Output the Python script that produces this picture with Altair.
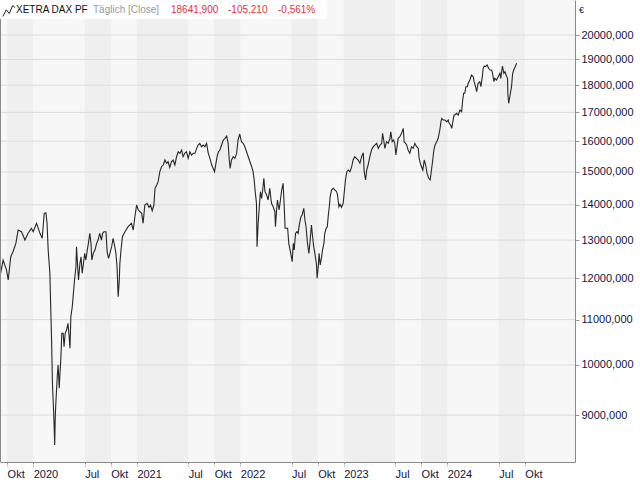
import altair as alt
import pandas as pd

# ---------------- data ----------------
d2019 = ["2019-09-08", "2019-09-17", "2019-09-29", "2019-10-05", "2019-10-14", "2019-10-22",
         "2019-11-01", "2019-11-09", "2019-11-21", "2019-12-03", "2019-12-14", "2019-12-26"]
v2019 = [12120, 12466, 12207, 11954, 12553, 12686, 12912, 13277, 13230, 13001, 13186, 13325]

d2020 = ["2020-01-01", "2020-01-13", "2020-01-25", "2020-02-02", "2020-02-09", "2020-02-15",
         "2020-02-19", "2020-02-23", "2020-02-29", "2020-03-02", "2020-03-06", "2020-03-09",
         "2020-03-14", "2020-03-17", "2020-03-19", "2020-03-21", "2020-03-26", "2020-03-29",
         "2020-04-02", "2020-04-04", "2020-04-08", "2020-04-11", "2020-04-16", "2020-04-19",
         "2020-04-23", "2020-04-28", "2020-05-03", "2020-05-07", "2020-05-10", "2020-05-13",
         "2020-05-18", "2020-05-21", "2020-05-26", "2020-05-31", "2020-06-02", "2020-06-06",
         "2020-06-09", "2020-06-14", "2020-06-18", "2020-06-22", "2020-06-25", "2020-07-01",
         "2020-07-05", "2020-07-10", "2020-07-14", "2020-07-19", "2020-07-23", "2020-07-26",
         "2020-07-31", "2020-08-06", "2020-08-12", "2020-08-17", "2020-08-23", "2020-08-29",
         "2020-09-02", "2020-09-07", "2020-09-14", "2020-09-18", "2020-09-23", "2020-09-28",
         "2020-10-04", "2020-10-09", "2020-10-14", "2020-10-19", "2020-10-23", "2020-10-27",
         "2020-10-31", "2020-11-02", "2020-11-06", "2020-11-11", "2020-11-20", "2020-12-01",
         "2020-12-13", "2020-12-19", "2020-12-25", "2020-12-31"]
v2020 = [13230, 13466, 13186, 13048, 13752, 13769,
         13466, 12731, 12123, 11542, 10538, 9622,
         8970, 8452, 8970, 9226, 9757, 10000,
         9521, 9757, 10175, 10688, 10688, 10391,
         10688, 10762, 10915, 10612, 10356, 11067,
         11302, 11542, 11954, 12292, 12820, 12292,
         11954, 12380, 12553, 12123, 12292, 12643,
         12466, 12731, 12912, 13186, 12912, 12466,
         12643, 12731, 12912, 13001, 13186, 13001,
         13186, 13230, 13230, 12686, 12511, 12643,
         12820, 13048, 12866, 12643, 12292, 11542,
         11954, 12380, 12731, 13092, 13230, 13370,
         13466, 13277, 13654, 13993]

d2021 = ["2021-01-06", "2021-01-18", "2021-01-23", "2021-01-29", "2021-02-06", "2021-02-13",
         "2021-02-18", "2021-02-24", "2021-03-02", "2021-03-06", "2021-03-12", "2021-03-17",
         "2021-03-23", "2021-03-29", "2021-04-04", "2021-04-10", "2021-04-16", "2021-04-21",
         "2021-04-27", "2021-05-03", "2021-05-09", "2021-05-15", "2021-05-21", "2021-05-27",
         "2021-06-02", "2021-06-08", "2021-06-13", "2021-06-19", "2021-06-25", "2021-07-01",
         "2021-07-07", "2021-07-13", "2021-07-19", "2021-07-25", "2021-07-31", "2021-08-05",
         "2021-08-11", "2021-08-17", "2021-08-23", "2021-08-29", "2021-09-04", "2021-09-10",
         "2021-09-16", "2021-09-22", "2021-09-27", "2021-10-02", "2021-10-07", "2021-10-11",
         "2021-10-16", "2021-10-21", "2021-10-27", "2021-11-02", "2021-11-08", "2021-11-14",
         "2021-11-19", "2021-11-23", "2021-11-26", "2021-12-01", "2021-12-07", "2021-12-13",
         "2021-12-19", "2021-12-24", "2021-12-30"]
v2021 = [13847, 13752, 13466, 13993, 14043, 13926,
         13993, 13827, 13993, 14493, 14594, 14696,
         15008, 15166, 15220, 15381, 15275, 15326,
         15147, 15326, 15381, 15220, 15488, 15651,
         15599, 15707, 15488, 15599, 15651, 15436,
         15651, 15543, 15599, 15599, 15763, 15873,
         15930, 15817, 15873, 15817, 15930, 15599,
         15436, 15220, 15115, 15008, 15275, 15488,
         15651, 15707, 15873, 16041, 16098, 16176,
         15930, 15381, 15115, 15381, 15488, 15436,
         15599, 16041, 16244]

d2022 = ["2022-01-05", "2022-01-11", "2022-01-17", "2022-01-23", "2022-01-29", "2022-02-04",
         "2022-02-10", "2022-02-15", "2022-02-19", "2022-02-22", "2022-02-27", "2022-03-01",
         "2022-03-05", "2022-03-09", "2022-03-13", "2022-03-17", "2022-03-21", "2022-03-25",
         "2022-03-29", "2022-04-04", "2022-04-09", "2022-04-15", "2022-04-21", "2022-04-27",
         "2022-05-03", "2022-05-05", "2022-05-09", "2022-05-12", "2022-05-18", "2022-05-27",
         "2022-06-01", "2022-06-05", "2022-06-08", "2022-06-17", "2022-06-21", "2022-06-28",
         "2022-07-03", "2022-07-07", "2022-07-10", "2022-07-15", "2022-07-20", "2022-07-24",
         "2022-07-29", "2022-08-03", "2022-08-07", "2022-08-13", "2022-08-17", "2022-08-21",
         "2022-08-26", "2022-08-31", "2022-09-04", "2022-09-09", "2022-09-13", "2022-09-17",
         "2022-09-21", "2022-09-27", "2022-09-29", "2022-10-03", "2022-10-06", "2022-10-10",
         "2022-10-15", "2022-10-18", "2022-10-23", "2022-10-26", "2022-10-31", "2022-11-04",
         "2022-11-07", "2022-11-11", "2022-11-14", "2022-11-19", "2022-11-25", "2022-12-01",
         "2022-12-07", "2022-12-10", "2022-12-15", "2022-12-19", "2022-12-24", "2022-12-30"]
v2022 = [15984, 15930, 15817, 15651, 15488, 15326,
         15166, 15008, 14748, 14441, 14043, 12820,
         13466, 13943, 14390, 14192, 14441, 14801,
         14390, 14291, 14141, 14493, 14043, 13943,
         13798, 13370, 13847, 14141, 13847, 14441,
         14646, 13943, 13325, 13325, 12912, 12643,
         12422, 12912, 12731, 13186, 13230, 13186,
         13466, 13654, 13703, 13897, 13559, 13370,
         12912, 12643, 12955, 13418, 13092, 12820,
         12643, 12336, 11997, 12292, 12643, 12336,
         12553, 12731, 12912, 13186, 13325, 13370,
         13654, 13943, 14240, 14441, 14493, 14441,
         14390, 14291, 13943, 14014, 13926, 14043]

d2023 = ["2023-01-03", "2023-01-07", "2023-01-12", "2023-01-17", "2023-01-23", "2023-01-29",
         "2023-02-03", "2023-02-09", "2023-02-15", "2023-02-21", "2023-02-27", "2023-03-05",
         "2023-03-11", "2023-03-14", "2023-03-19", "2023-03-23", "2023-03-28", "2023-04-03",
         "2023-04-09", "2023-04-15", "2023-04-21", "2023-04-27", "2023-05-03", "2023-05-09",
         "2023-05-15", "2023-05-18", "2023-05-22", "2023-05-26", "2023-06-01", "2023-06-07",
         "2023-06-13", "2023-06-16", "2023-06-21", "2023-06-26", "2023-06-30", "2023-07-04",
         "2023-07-08", "2023-07-12", "2023-07-18", "2023-07-24", "2023-07-30", "2023-08-02",
         "2023-08-07", "2023-08-11", "2023-08-16", "2023-08-22", "2023-08-28", "2023-09-03",
         "2023-09-09", "2023-09-15", "2023-09-21", "2023-09-24", "2023-09-30", "2023-10-07",
         "2023-10-12", "2023-10-17", "2023-10-22", "2023-10-28", "2023-11-02", "2023-11-11",
         "2023-11-15", "2023-11-19", "2023-11-25", "2023-11-30", "2023-12-06", "2023-12-10",
         "2023-12-13", "2023-12-18", "2023-12-24", "2023-12-30"]
v2023 = [14390, 14748, 15008, 15061, 15008, 15166,
         15381, 15488, 15436, 15381, 15275, 15488,
         15618, 15008, 14748, 15061, 15220, 15488,
         15707, 15817, 15873, 15930, 15763, 15873,
         15930, 16268, 16041, 15763, 15984, 15930,
         16098, 16323, 15984, 16041, 15930, 15543,
         15817, 16098, 16153, 16268, 16440, 15984,
         15930, 15873, 15707, 15599, 15817, 15763,
         15930, 15817, 15763, 15436, 15220, 15061,
         15381, 15220, 14957, 14801, 14748, 15381,
         15707, 15873, 15984, 16098, 16381, 16670,
         16789, 16729, 16729, 16670]

d2024 = ["2024-01-05", "2024-01-08", "2024-01-13", "2024-01-17", "2024-01-20", "2024-01-25",
         "2024-01-28", "2024-02-03", "2024-02-09", "2024-02-15", "2024-02-21", "2024-02-24",
         "2024-02-28", "2024-03-03", "2024-03-07", "2024-03-12", "2024-03-15", "2024-03-21",
         "2024-03-27", "2024-04-02", "2024-04-05", "2024-04-10", "2024-04-14", "2024-04-19",
         "2024-04-25", "2024-04-29", "2024-05-04", "2024-05-07", "2024-05-11", "2024-05-15",
         "2024-05-21", "2024-05-26", "2024-05-31", "2024-06-06", "2024-06-09", "2024-06-14",
         "2024-06-17", "2024-06-23", "2024-06-29", "2024-07-05", "2024-07-08", "2024-07-14",
         "2024-07-19", "2024-07-23", "2024-07-29", "2024-08-01", "2024-08-02", "2024-08-05",
         "2024-08-10", "2024-08-15", "2024-08-19", "2024-08-23", "2024-08-28", "2024-09-02"]
v2024 = [16729, 16614, 16554, 16440, 16614, 16906,
         16906, 16967, 16906, 17085, 17024, 17385,
         17695, 17695, 17942, 17942, 18071, 18196,
         18388, 18323, 18131, 17942, 17754, 18071,
         18131, 17942, 18323, 18649, 18739, 18713,
         18778, 18649, 18582, 18582, 18454, 18131,
         18261, 18196, 18323, 18454, 18261, 18739,
         18454, 18516, 18323, 18261, 17695, 17327,
         17631, 17942, 18454, 18582, 18713, 18846]

# axis ticks (dates) and value ticks
tick_dates = ["2019-10-01", "2020-01-01", "2020-07-01", "2020-10-01", "2021-01-01", "2021-07-01",
              "2021-10-01", "2022-01-01", "2022-07-01", "2022-10-01", "2023-01-01", "2023-07-01",
              "2023-10-01", "2024-01-01", "2024-07-01", "2024-10-01"]
y_ticks = [9000, 10000, 11000, 12000, 13000, 14000, 15000, 16000, 17000, 18000, 19000, 20000]
x_domain = ["2019-09-06", "2025-03-27"]
y_domain = [8156, 21526]

title_name = "XETRA DAX PF"
title_sub = "Täglich [Close]"
title_last = "18641,900"
title_chg = "-105,210"
title_pct = "-0,561%"

# ---------------- build ----------------
FONT = "Liberation Sans"
W, H = 575, 462


def ms(s):
    return int(pd.Timestamp(s, tz="UTC").value // 10**6)


dates = d2019 + d2020 + d2021 + d2022 + d2023 + d2024
vals = v2019 + v2020 + v2021 + v2022 + v2023 + v2024
df = pd.DataFrame({"date": [ms(d) for d in dates], "value": vals})

tick_ms = [ms(d) for d in tick_dates]
bands = pd.DataFrame({"start": tick_ms[0::2], "end": tick_ms[1::2]})
grid = pd.DataFrame({"v": y_ticks})
one = pd.DataFrame({"a": [0]})

xscale = alt.Scale(type="utc", domain=[ms(d) for d in x_domain], nice=False)
yscale = alt.Scale(type="log", domain=y_domain, nice=False, zero=False)

x_axis = alt.Axis(
    values=tick_ms,
    labelExpr="utcmonth(datum.value) == 0 ? '' + utcyear(datum.value) : (utcmonth(datum.value) == 6 ? 'Jul' : 'Okt')",
    labelAlign="left", labelBaseline="top", labelPadding=2, labelFont=FONT, labelFontSize=11,
    labelColor="#15153a", labelOverlap=False, labelFlush=False, labelBound=False,
    tickSize=4, tickColor="#9a9a9a", tickDash=[2, 1], domainColor="#8a8a8a", grid=False, title=None,
)
y_axis = alt.Axis(
    orient="right", values=y_ticks, labelExpr="format(datum.value, 'd') + ',000'",
    labelAlign="left", labelBaseline="middle", labelPadding=2, labelFont=FONT, labelFontSize=11,
    labelColor="#15153a", labelOverlap=False, labelFlush=False, labelBound=False,
    tickSize=4, tickColor="#9a9a9a", domainColor="#8a8a8a", grid=False, title=None,
)

band_layer = alt.Chart(bands).mark_rect(color="#efefef").encode(
    x=alt.X("start:Q", scale=xscale, axis=x_axis),
    x2="end:Q",
)

grid_layer = alt.Chart(grid).mark_rule(color="#dcdcdc", strokeWidth=1).encode(
    y=alt.Y("v:Q", scale=yscale, axis=y_axis)
)

line_layer = alt.Chart(df).mark_line(color="#262626", strokeWidth=1.1).encode(
    x=alt.X("date:Q", scale=xscale, axis=x_axis),
    y=alt.Y("value:Q", scale=yscale, axis=y_axis),
)

left_edge = alt.Chart(one).mark_rule(color="#8a8a8a", strokeWidth=1).encode(
    x=alt.value(0.5), y=alt.value(0), y2=alt.value(H)
)

box = alt.Chart(one).mark_rect(fill="white").encode(
    x=alt.value(0), x2=alt.value(327), y=alt.value(0), y2=alt.value(19)
)
icon = alt.Chart(one).mark_point(
    shape="M-1,0.9L-0.45,-0.2L0.05,0.4L0.6,-0.9L1,-0.55", filled=False, stroke="#222222",
    strokeWidth=1, size=150, opacity=1
).encode(x=alt.value(9), y=alt.value(11))


def txt(t, x, color):
    return alt.Chart(one).mark_text(
        text=t, align="left", baseline="middle", font=FONT, fontSize=10, color=color
    ).encode(x=alt.value(x), y=alt.value(10))


euro = alt.Chart(one).mark_text(
    text="€", align="left", baseline="middle", font=FONT, fontSize=9, color="#15153a"
).encode(x=alt.value(W + 4), y=alt.value(10))

chart = alt.layer(
    band_layer, grid_layer, line_layer, left_edge, box, icon,
    txt(title_name, 16, "#111111"), txt(title_sub, 93, "#9a9a9a"),
    txt(title_last, 171, "#e0303c"), txt(title_chg, 228, "#e0303c"), txt(title_pct, 278, "#e0303c"),
    euro,
).properties(
    width=W, height=H, autosize=alt.AutoSizeParams(type="none"),
    padding={"left": 0, "top": 0, "right": 640 - W, "bottom": 480 - H},
    background="white",
).configure_view(fill="#f7f7f7", stroke=None)

chart.save("out.html", embed_options={"renderer": "svg", "actions": False})
